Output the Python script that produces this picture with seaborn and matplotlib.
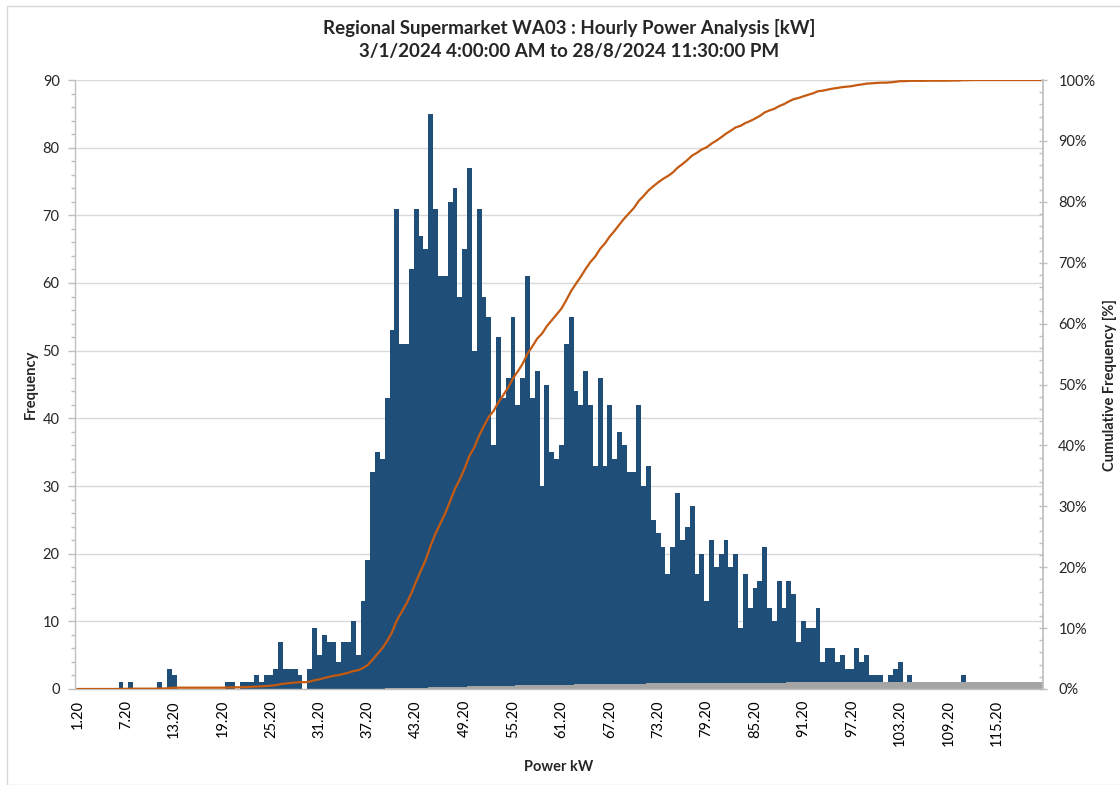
import numpy as np
import pandas as pd
import matplotlib
matplotlib.use("Agg")
import matplotlib.pyplot as plt
from matplotlib.ticker import MultipleLocator, FixedLocator, PercentFormatter
from matplotlib.patches import Rectangle
import seaborn as sns

# ---------------- data ----------------
bin_start = 1.2
bin_width = 0.6
n_bins = 200
categories = [f"{bin_start + bin_width * i:.2f}" for i in range(n_bins)]

frequency = [
    # i 0-9
    0, 0, 0, 0, 0, 0, 0, 0, 0, 1,
    # i 10-19
    0, 1, 0, 0, 0, 0, 0, 1, 0, 3,
    # i 20-29
    2, 0, 0, 0, 0, 0, 0, 0, 0, 0,
    # i 30-39
    0, 1, 1, 0, 1, 1, 1, 2, 1, 2,
    # i 40-49
    2, 3, 7, 3, 3, 3, 2, 0, 3, 9,
    # i 50-59
    5, 8, 7, 7, 4, 7, 7, 10, 5, 13,
    # i 60-69
    19, 32, 35, 34, 43, 53, 71, 51, 51, 62,
    # i 70-79
    71, 67, 65, 85, 71, 61, 61, 72, 74, 58,
    # i 80-89
    65, 77, 50, 71, 58, 55, 36, 52, 43, 46,
    # i 90-99
    55, 42, 46, 61, 43, 47, 30, 45, 35, 34,
    # i 100-109
    36, 51, 55, 44, 42, 47, 42, 33, 46, 33,
    # i 110-119
    42, 34, 38, 36, 32, 32, 42, 30, 33, 25,
    # i 120-129
    23, 21, 17, 21, 29, 22, 24, 27, 17, 20,
    # i 130-139
    13, 22, 18, 20, 22, 18, 20, 9, 17, 12,
    # i 140-149
    15, 16, 21, 12, 10, 16, 12, 16, 14, 7,
    # i 150-159
    10, 9, 9, 12, 4, 6, 6, 4, 5, 3,
    # i 160-169
    3, 6, 4, 5, 2, 2, 2, 0, 2, 3,
    # i 170-179
    4, 0, 2, 0, 0, 0, 1, 0, 0, 0,
    # i 180-189
    0, 1, 0, 2, 0, 1, 0, 0, 0, 0,
    # i 190-199
    0, 0, 0, 0, 0, 0, 0, 0, 0, 0,
]

title_line1 = "Regional Supermarket WA03 : Hourly Power Analysis [kW]"
title_line2 = "3/1/2024 4:00:00 AM to 28/8/2024 11:30:00 PM"

freq = np.array(frequency, dtype=float)
cum_frac = np.cumsum(freq) / freq.sum()

df = pd.DataFrame({"cat": categories, "freq": freq, "cum": cum_frac,
                   "pos": np.arange(n_bins)})

# ---------------- style ----------------
sns.set_theme(style="white")
plt.rcParams["font.family"] = ["Lato", "DejaVu Sans"]

BLUE = "#1F4E79"
GREY = "#A5A5A5"
ORANGE = "#C55A11"
AXIS = "#BFBFBF"
GRID = "#D9D9D9"
TEXT = "#000000"

fig = plt.figure(figsize=(11.2, 7.85), dpi=100)
ax = fig.add_axes([75 / 1120, 1 - 689 / 785, (1043 - 75) / 1120, (689 - 80) / 785])

sns.barplot(data=df, x="cat", y="freq", color=BLUE, width=1.0, errorbar=None,
            saturation=1, ax=ax, order=categories, linewidth=0)
sns.barplot(data=df, x="cat", y="cum", color=GREY, width=1.0, errorbar=None,
            saturation=1, ax=ax, order=categories, linewidth=0)

ax.set_xlim(-0.5, n_bins - 0.5)
ax.set_ylim(0, 90)
ax.yaxis.set_major_locator(MultipleLocator(10))
ax.yaxis.set_minor_locator(MultipleLocator(2))
ax.yaxis.grid(True, which="major", color=GRID, linewidth=1)
ax.xaxis.grid(False)
ax.set_axisbelow(True)

label_pos = list(range(0, n_bins, 10))
ax.xaxis.set_major_locator(FixedLocator(label_pos))
ax.set_xticklabels([categories[i] for i in label_pos], rotation=90)
ax.xaxis.set_minor_locator(FixedLocator(np.arange(-0.5, n_bins, 5)))
ax.tick_params(axis="x", which="major", length=0, pad=8, labelsize=10.5, colors=TEXT)
ax.tick_params(axis="x", which="minor", length=5, width=1, color=AXIS, direction="out")
ax.tick_params(axis="y", which="major", length=5, width=1, color=AXIS, direction="out",
               labelsize=10.5, pad=6)
ax.tick_params(axis="y", which="minor", length=3, width=1, color=AXIS, direction="out")

for side in ["top", "right"]:
    ax.spines[side].set_visible(False)
for side in ["left", "bottom"]:
    ax.spines[side].set_color(AXIS)
    ax.spines[side].set_linewidth(1)

ax.set_xlabel("Power kW", fontsize=10.5, fontweight="bold")
ax.set_ylabel("Frequency", fontsize=10.5, fontweight="bold")
ax.xaxis.set_label_coords(0.5, -0.117)
ax.yaxis.set_label_coords(-0.038, 0.5)

# cumulative line on secondary axis
ax2 = ax.twinx()
sns.lineplot(data=df, x="pos", y="cum", color=ORANGE, linewidth=1.6, ax=ax2)
ax2.set_xlim(-0.5, n_bins - 0.5)
ax2.set_ylim(0, 1.0)
ax2.yaxis.set_major_locator(MultipleLocator(0.1))
ax2.yaxis.set_minor_locator(MultipleLocator(0.02))
ax2.yaxis.set_major_formatter(PercentFormatter(1.0, decimals=0))
ax2.tick_params(axis="y", which="major", length=6, width=1, color=AXIS, direction="inout",
                labelsize=10.5, pad=8)
ax2.tick_params(axis="y", which="minor", length=3, width=1, color=AXIS, direction="in")
ax2.set_ylabel("Cumulative Frequency [%]", fontsize=10.5, fontweight="bold")
ax2.yaxis.set_label_coords(1.062, 0.5)
ax2.set_xlabel("")
for side in ["top", "left", "bottom"]:
    ax2.spines[side].set_visible(False)
ax2.spines["right"].set_color(AXIS)
ax2.grid(False)

# titles
fig.text(569 / 1120, 1 - 28 / 785, title_line1, ha="center", va="center",
         fontsize=13.5, fontweight="bold")
fig.text(569 / 1120, 1 - 52 / 785, title_line2, ha="center", va="center",
         fontsize=13.5, fontweight="bold")

# chart-area border
fig.patches.append(Rectangle((7 / 1120, 0), 1.2, 1 - 6 / 785, transform=fig.transFigure,
                             fill=False, edgecolor=GRID, linewidth=1))

fig.savefig("out.png", dpi=100)
